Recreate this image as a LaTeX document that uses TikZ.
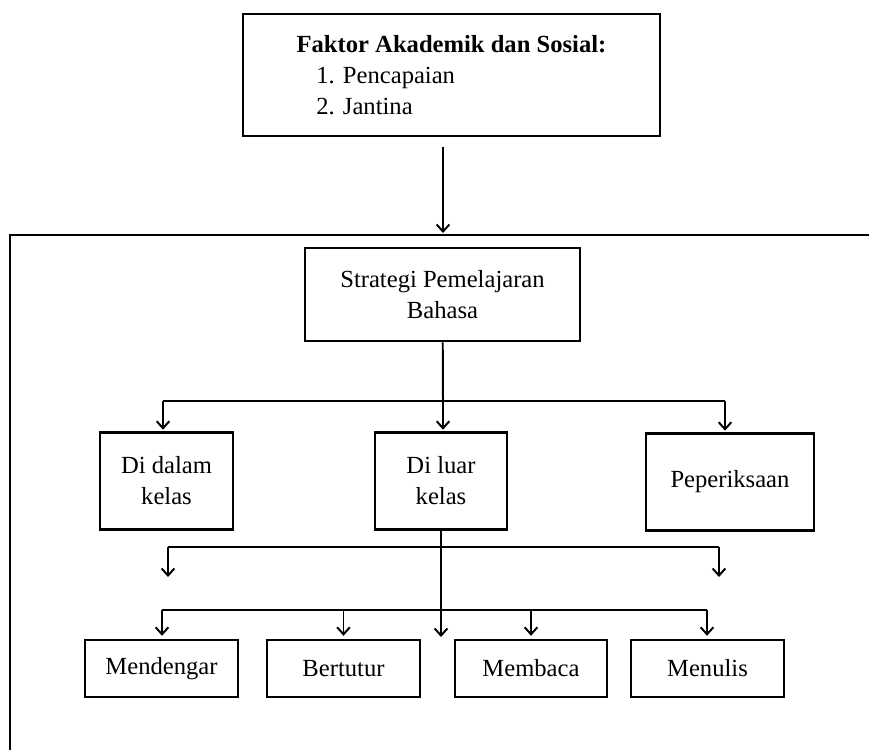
\documentclass[tikz,border=0pt]{standalone}
\usepackage{fontspec}
\setmainfont{Liberation Serif}
\usetikzlibrary{arrows.meta}
\def\unitpx{0.025cm}

\begin{document}
\begin{tikzpicture}[x=0.025cm, y=-0.025cm,
  box/.style={rectangle, draw=black, line width=2pt, inner sep=0pt, align=center,
    font=\fontsize{17.5}{22}\selectfont},
  conn/.style={line width=1.4pt},
  >={Straight Barb[length=5pt,width=9pt]}]
\clip (0,0) rectangle (869,750);

% outer frame, runs off the page on the right and at the bottom
\draw[line width=1.6pt] (10,235) rectangle (900,800);

\node[box, align=left, minimum width=417*\unitpx, minimum height=122*\unitpx] (1) at (451.5,75)
  {\textbf{Faktor Akademik dan Sosial:}\\ \hspace*{0.8em}1. Pencapaian\\ \hspace*{0.8em}2. Jantina};
\node[box, minimum width=275*\unitpx, minimum height=93*\unitpx] (2) at (442.5,294.5) {Strategi Pemelajaran\\ Bahasa};

\node[box, minimum width=133*\unitpx, minimum height=97*\unitpx] (3) at (166.5,481) {Di dalam\\ kelas};
\node[box, minimum width=132*\unitpx, minimum height=97*\unitpx] (4) at (441,481) {Di luar\\ kelas};
\node[box, minimum width=168*\unitpx, minimum height=97*\unitpx] (5) at (730,482) {Peperiksaan};

\node[box, minimum width=153*\unitpx, minimum height=57*\unitpx] (6) at (161.5,668.5) {Mendengar};
\node[box, minimum width=153*\unitpx, minimum height=57*\unitpx] (7) at (343.5,668.5) {Bertutur};
\node[box, minimum width=152*\unitpx, minimum height=57*\unitpx] (8) at (531,668.5) {Membaca};
\node[box, minimum width=153*\unitpx, minimum height=57*\unitpx] (9) at (707.5,668.5) {Menulis};

\coordinate (a1) at (443,147);
\coordinate (a2) at (443,233);
\coordinate (b1) at (443,401);
\coordinate (b1l) at (163,401);
\coordinate (b1r) at (725,401);
\coordinate (c2l) at (168,547);
\coordinate (c2r) at (719,547);
\coordinate (d2l) at (168,577);
\coordinate (d2r) at (719,577);
\coordinate (c3l) at (162,610);
\coordinate (c3r) at (707,610);
\coordinate (m) at (441,637);

\draw[conn, ->] (a1) -- (a2);

\draw[conn] (2) -- (b1);
\draw[conn] (b1l) -- (b1r);
\draw[conn, ->] (b1l) -- ([yshift=1pt]b1l |- 3.north);
\draw[conn, ->] (b1) -- ([yshift=1pt]b1 |- 4.north);
\draw[conn, ->] (b1r) -- ([yshift=1pt]b1r |- 5.north);

\draw[conn, ->] (4) -- (m);
\draw[conn] (c2l) -- (c2r);
\draw[conn, ->] (c2l) -- (d2l);
\draw[conn, ->] (c2r) -- (d2r);

\draw[conn] (c3l) -- (c3r);
\draw[conn, ->] (c3l) -- ([yshift=2pt]c3l |- 6.north);
\draw[conn, ->] (c3l -| 7) -- ([yshift=2pt]c3l |- 7.north -| 7);
\draw[conn, ->] (c3l -| 8) -- ([yshift=2pt]c3l |- 8.north -| 8);
\draw[conn, ->] (c3r) -- ([yshift=2pt]c3r |- 9.north);
\end{tikzpicture}
\end{document}
